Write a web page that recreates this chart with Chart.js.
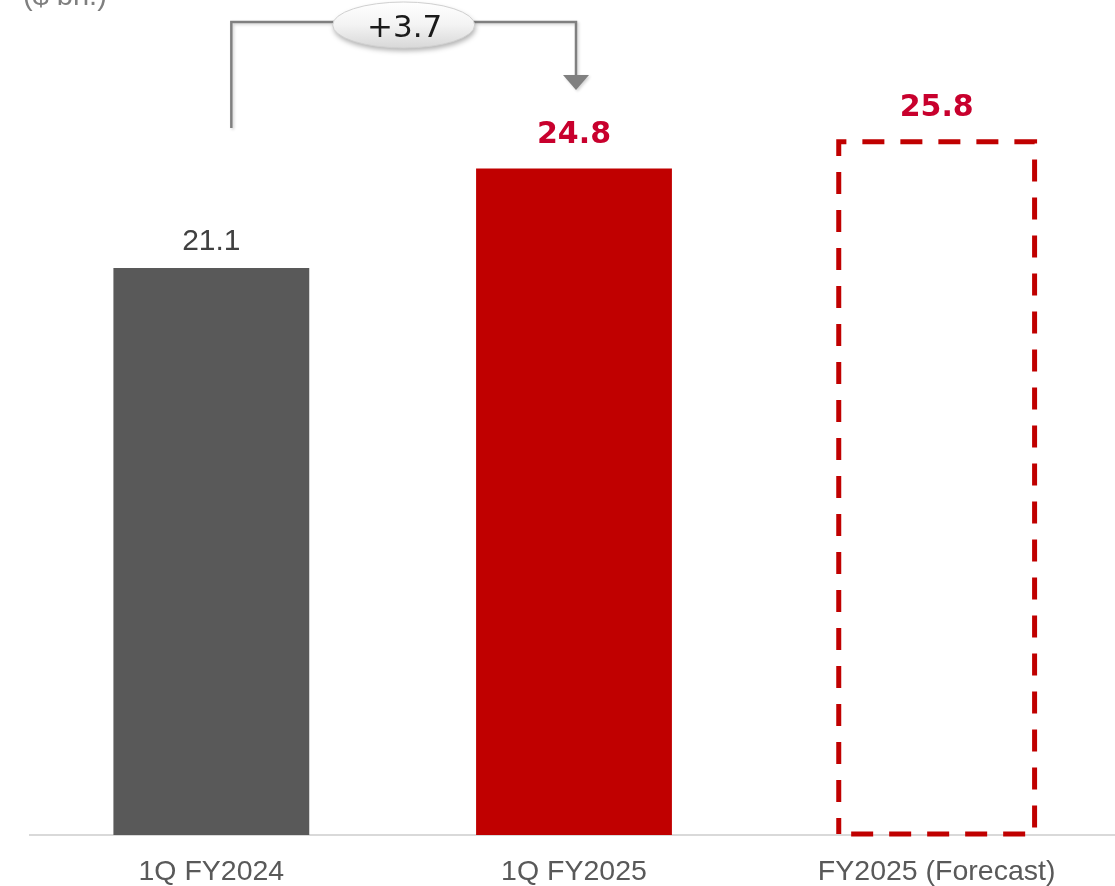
<!DOCTYPE html>
<html>
<head>
<meta charset="utf-8">
<script src="https://cdn.jsdelivr.net/npm/chart.js@4/dist/chart.umd.min.js"></script>
<style>
  html, body { margin: 0; padding: 0; background: #fff; overflow: hidden; }
  #wrap { width: 1118px; height: 886px; }
</style>
</head>
<body>
<div id="wrap"><canvas id="c" width="1118" height="886"></canvas></div>
<script>
// Revenue, $ billions
const categories = ['1Q FY2024', '1Q FY2025', 'FY2025 (Forecast)'];
const values = [21.1, 24.8, 25.8];
const unitLabel = '($ bn.)';
const forecastIndex = 2;

const GRAY = '#595959';
const RED = '#C00000';
const LABEL_RED = '#C8002D';

function fmt(v) { return v.toFixed(1); }

const annotations = {
  id: 'annotations',
  afterDatasetsDraw(chart) {
    const ctx = chart.ctx;
    const bars = chart.getDatasetMeta(0).data;

    // Forecast bar: dashed outline only
    const fb = bars[forecastIndex];
    const half = fb.width / 2;
    ctx.save();
    ctx.strokeStyle = RED;
    ctx.lineWidth = 5;
    ctx.setLineDash([22, 16]);
    ctx.lineDashOffset = 6;
    ctx.beginPath();
    ctx.moveTo(fb.x - half, fb.base - 1);
    ctx.lineTo(fb.x - half, fb.y);
    ctx.lineTo(fb.x + half, fb.y);
    ctx.lineTo(fb.x + half, fb.base - 1);
    ctx.closePath();
    ctx.stroke();
    ctx.restore();

    // Value labels above each bar
    bars.forEach((b, i) => {
      ctx.save();
      ctx.textAlign = 'center';
      ctx.textBaseline = 'alphabetic';
      if (i === 0) {
        ctx.font = '30px "Liberation Sans", Arial, sans-serif';
        ctx.fillStyle = '#404040';
        ctx.fillText(fmt(values[i]), b.x, b.y - 18);
      } else {
        ctx.font = 'bold 30px "DejaVu Sans", sans-serif';
        ctx.fillStyle = LABEL_RED;
        ctx.fillText(fmt(values[i]), b.x, b.y - 26);
      }
      ctx.restore();
    });

    // Change bracket from first to second bar
    const top = chart.chartArea.top;
    const x0 = bars[0].x + 20;
    const x1 = bars[1].x + 2;
    const yLine = top + 22;
    ctx.save();
    ctx.strokeStyle = '#808080';
    ctx.fillStyle = '#808080';
    ctx.lineWidth = 2.5;
    ctx.shadowColor = 'rgba(0,0,0,0.18)';
    ctx.shadowBlur = 3;
    ctx.shadowOffsetX = 1.5;
    ctx.shadowOffsetY = 1.5;
    ctx.beginPath();
    ctx.moveTo(x0, top + 128);
    ctx.lineTo(x0, yLine);
    ctx.lineTo(x1, yLine);
    ctx.lineTo(x1, top + 76);
    ctx.stroke();
    ctx.beginPath();
    ctx.moveTo(x1 - 13, top + 75);
    ctx.lineTo(x1 + 13, top + 75);
    ctx.lineTo(x1, top + 90);
    ctx.closePath();
    ctx.fill();
    ctx.restore();

    // Oval badge with the difference
    const cx = (x0 + x1) / 2;
    const cy = top + 25;
    const rx = 71, ry = 23;
    ctx.save();
    ctx.shadowColor = 'rgba(0,0,0,0.3)';
    ctx.shadowBlur = 5;
    ctx.shadowOffsetX = 1;
    ctx.shadowOffsetY = 3;
    const g = ctx.createLinearGradient(0, cy - ry, 0, cy + ry);
    g.addColorStop(0, '#ffffff');
    g.addColorStop(0.5, '#f3f3f3');
    g.addColorStop(1, '#d8d8d8');
    ctx.fillStyle = g;
    ctx.beginPath();
    ctx.ellipse(cx, cy, rx, ry, 0, 0, Math.PI * 2);
    ctx.fill();
    ctx.shadowColor = 'transparent';
    ctx.strokeStyle = '#d0d0d0';
    ctx.lineWidth = 1;
    ctx.stroke();
    ctx.fillStyle = '#1a1a1a';
    ctx.font = '31px "DejaVu Sans", sans-serif';
    ctx.textAlign = 'center';
    ctx.textBaseline = 'alphabetic';
    const diff = values[1] - values[0];
    ctx.fillText((diff >= 0 ? '+' : '') + fmt(diff), cx + 1, cy + 12);
    ctx.restore();

    // Unit label
    ctx.save();
    ctx.fillStyle = '#7f7f7f';
    ctx.font = '29px "Liberation Sans", Arial, sans-serif';
    ctx.textAlign = 'left';
    ctx.textBaseline = 'alphabetic';
    ctx.fillText(unitLabel, 23, 5);
    ctx.restore();
  }
};

new Chart(document.getElementById('c'), {
  type: 'bar',
  data: {
    labels: categories,
    datasets: [{
      data: values,
      backgroundColor: values.map((v, i) => i === forecastIndex ? 'rgba(0,0,0,0)' : (i === 0 ? GRAY : RED)),
      borderWidth: 0,
      barPercentage: 0.54,
      categoryPercentage: 1.0
    }]
  },
  options: {
    responsive: false,
    animation: false,
    devicePixelRatio: 1,
    layout: { padding: { left: 30, right: 0, top: 0, bottom: 0 } },
    plugins: { legend: { display: false }, tooltip: { enabled: false } },
    scales: {
      y: { display: false, min: 0, max: 31.07 },
      x: {
        grid: { display: false, drawTicks: false },
        border: { display: true, color: '#d9d9d9', width: 2 },
        ticks: {
          color: GRAY,
          padding: 20,
          font: { family: '"Liberation Sans", Arial, sans-serif', size: 28.5 }
        },
        afterFit(scale) { scale.height = 51; }
      }
    }
  },
  plugins: [annotations]
});
</script>
</body>
</html>
